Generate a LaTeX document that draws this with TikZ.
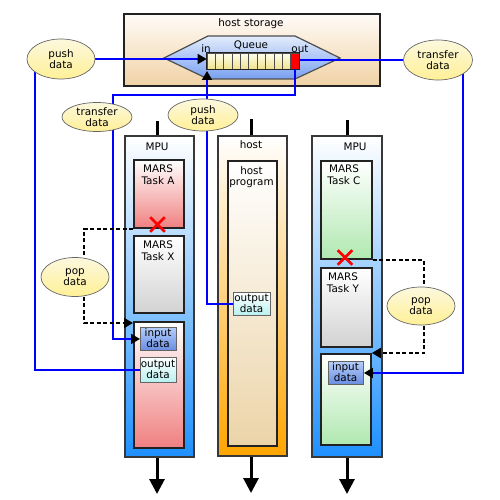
\documentclass[tikz,border=0pt]{standalone}
\usepackage{fontspec}
\setmainfont{DejaVu Sans}
\usetikzlibrary{arrows.meta,shapes.geometric,shapes.misc,calc}
\definecolor{mpublue}{RGB}{30,144,255}
\definecolor{hostorange}{RGB}{255,165,0}
\definecolor{hstbot}{RGB}{240,210,165}
\definecolor{qtop}{RGB}{226,236,252}
\definecolor{qbot}{RGB}{120,160,240}
\definecolor{celltop}{RGB}{255,255,240}
\definecolor{cellbot}{RGB}{240,226,140}
\definecolor{bubtop}{RGB}{252,248,222}
\definecolor{bubbot}{RGB}{255,240,150}
\definecolor{pinkbot}{RGB}{240,128,128}
\definecolor{graybot}{RGB}{210,210,210}
\definecolor{greenbot}{RGB}{176,232,176}
\definecolor{tanbot}{RGB}{236,212,168}
\definecolor{intop}{RGB}{180,205,250}
\definecolor{inbot}{RGB}{105,140,225}
\definecolor{outbot}{RGB}{185,240,240}
\definecolor{edge}{RGB}{34,34,34}
\begin{document}
\begin{tikzpicture}[x=1pt,y=-1pt,
  font=\fontsize{10.4}{11.2}\selectfont,
  box/.style={draw=edge, line width=1.8pt, inner sep=0pt, anchor=north west},
  colbox/.style={draw=edge!90, line width=1.5pt, inner sep=0pt, anchor=north west},
  mpucol/.style={colbox, top color=white, bottom color=mpublue},
  hostcol/.style={colbox, top color=white, bottom color=hostorange},
  pinkbox/.style={box, top color=white, bottom color=pinkbot},
  graybox/.style={box, top color=white, bottom color=graybot},
  greenbox/.style={box, top color=white, bottom color=greenbot},
  tanbox/.style={box, top color=white, bottom color=tanbot},
  inbox/.style={draw=edge!70, line width=0.9pt, inner sep=0pt, anchor=north west, top color=intop, bottom color=inbot, align=center},
  outbox/.style={draw=edge!70, line width=0.9pt, inner sep=0pt, anchor=north west, top color=white, bottom color=outbot, align=center},
  bubble/.style={ellipse, draw=black!60, line width=0.7pt, top color=bubtop, bottom color=bubbot, inner sep=0pt, align=center},
  cell/.style={draw=edge!80, line width=0.7pt, inner sep=0pt, minimum width=8.3636pt, minimum height=16pt, top color=celltop, bottom color=cellbot},
  lbl/.style={inner sep=0pt, align=center},
  blueline/.style={draw=blue, line width=1.7pt},
  tipped/.style={-{Triangle[length=9pt,width=10pt,color=black]}},
  popline/.style={draw=black, line width=1.7pt, dash pattern=on 4pt off 2.5pt},
  stem/.style={draw=black, line width=3pt},
  downarrow/.style={draw=black, line width=3pt, -{Triangle[length=15pt,width=15pt]}},
  xmark/.style={cross out, draw=red, line width=2.6pt, minimum size=12pt, inner sep=0pt}
]
\useasboundingbox (0,0) rectangle (500,500);

% host storage
\node[box, line width=1.8pt, top color=white!97!orange, bottom color=hstbot, minimum width=256pt, minimum height=72pt] (hs) at (123,13) {};
\node[lbl] (hslbl) at (251,24) {host storage};
\path[draw=edge!80, line width=1.2pt, top color=qtop, bottom color=qbot]
  (164,58) -- (208,36) -- (295,36) -- (340,58) -- (295,79) -- (208,79) -- cycle;
\node[lbl] (qlbl) at (251,45) {Queue};
\node[lbl] (inlbl) at (206,49) {in};
\node[lbl] (outlbl) at (300,49) {out};
\foreach \i in {1,...,10} \node[cell] (q\i) at ({207+(\i-0.5)*8.3636},61) {};
\node[cell, fill=red, top color=red, bottom color=red] (q11) at ({207+10.5*8.3636},61) {};
\draw[edge, line width=1.3pt] (q1.north west) rectangle (q11.south east);

% columns
\node[mpucol, minimum width=69pt, minimum height=321pt] (mpuL) at (124,135) {};
\node[hostcol, minimum width=69pt, minimum height=320pt] (hostC) at (217,135) {};
\node[mpucol, minimum width=70pt, minimum height=321pt] (mpuR) at (311,135) {};
\node[lbl] (mpuLlbl) at (157,147) {MPU};
\node[lbl] (hostlbl) at (251,145) {host};
\node[lbl] (mpuRlbl) at (355,147) {MPU};

% left MPU content
\node[pinkbox, minimum width=50pt, minimum height=68pt] (taskA) at (133,159) {};
\node[lbl, anchor=north] (taskAlbl) at (158,165) {MARS\\Task A};
\node[graybox, minimum width=50pt, minimum height=77pt] (taskX) at (133,235) {};
\node[lbl, anchor=north] (taskXlbl) at (158,241) {MARS\\Task X};
\node[pinkbox, minimum width=50pt, minimum height=126pt] (botL) at (133,321) {};
\node[inbox, minimum width=36pt, minimum height=23pt] (inL) at (140,327) {};
\node[lbl] (inLlbl) at (158,338.5) {input\\data};
\node[outbox, minimum width=36pt, minimum height=25pt] (outL) at (140,357) {};
\node[lbl] (outLlbl) at (158,369.5) {output\\data};

% host content
\node[tanbox, minimum width=49pt, minimum height=285pt] (hprog) at (227,160) {};
\node[lbl, anchor=north] (hproglbl) at (251.5,166) {host\\program};
\node[outbox, minimum width=37pt, minimum height=23pt] (outH) at (233,292) {};
\node[lbl] (outHlbl) at (251.5,303.5) {output\\data};

% right MPU content
\node[greenbox, minimum width=51pt, minimum height=98pt] (taskC) at (320,160) {};
\node[lbl, anchor=north] (taskClbl) at (344,165) {MARS\\Task C};
\node[graybox, minimum width=51pt, minimum height=79pt] (taskY) at (320,267) {};
\node[lbl, anchor=north] (taskYlbl) at (343,273) {MARS\\Task Y};
\node[greenbox, minimum width=50pt, minimum height=91pt] (botR) at (320,353) {};
\node[inbox, minimum width=35pt, minimum height=23pt] (inR) at (328,361) {};
\node[lbl] (inRlbl) at (345.5,372.5) {input\\data};

% red crosses
\node[xmark] (xA) at (157.5,224.5) {};
\node[xmark] (xC) at (345,257.5) {};

% stems and down arrows
\coordinate (tL) at (157,121);
\coordinate (tH) at (251,119);
\coordinate (tR) at (347,120);
\draw[stem] (tL) -- (tL |- mpuL.north);
\draw[stem] (tH) -- (tH |- hostC.north);
\draw[stem] (tR) -- (tR |- mpuR.north);
\coordinate (bL) at (157,494);
\coordinate (bH) at (251,493);
\coordinate (bR) at (347,494);
\draw[downarrow] (bL |- mpuL.south) -- (bL);
\draw[downarrow] (bH |- hostC.south) -- (bH);
\draw[downarrow] (bR |- mpuR.south) -- (bR);

% ellipse positions
\coordinate (cpushL) at (61,59);
\coordinate (ctransL) at (97,117);
\coordinate (cpushM) at (203,115);
\coordinate (ctransR) at (438,60);
\coordinate (cpopL) at (75,277);
\coordinate (cpopR) at (421,306);

% blue connectors
\draw[blueline, tipped] (cpushL) -- (q1.west |- cpushL);
\draw[blueline] ([xshift=-26pt]cpushL) |- (outL.west);
\coordinate (jL) at (113,95);
\draw[blueline, tipped] (q11.south) |- (jL) |- (inL.west);
\coordinate (qin) at (207,71);
\draw[blueline, tipped] (outH.west) -| (qin);
\draw[blueline] (q11.east |- ctransR) -- (ctransR);
\draw[blueline, tipped] ([xshift=25pt]ctransR) |- (inR.east);

% dashed pop connectors
\draw[popline] (taskA.south west) -| ([xshift=9pt]cpopL);
\draw[popline, tipped] ([xshift=9pt]cpopL) |- ([yshift=-2pt]botL.north west);
\draw[popline] (taskC.south east) -| ([xshift=3pt]cpopR);
\draw[popline, tipped] ([xshift=3pt]cpopR) |- (botR.north east);

% ellipses
\node[bubble, minimum width=68pt, minimum height=40pt] (pushL) at (cpushL) {push\\data};
\node[bubble, minimum width=70pt, minimum height=29pt] (transL) at (ctransL) {transfer\\data};
\node[bubble, minimum width=70pt, minimum height=32pt] (pushM) at (cpushM) {push\\data};
\node[bubble, minimum width=69pt, minimum height=40pt] (transR) at (ctransR) {transfer\\data};
\node[bubble, minimum width=68pt, minimum height=39pt] (popL) at (cpopL) {pop\\data};
\node[bubble, minimum width=68pt, minimum height=38pt] (popR) at (cpopR) {pop\\data};
\end{tikzpicture}
\end{document}
